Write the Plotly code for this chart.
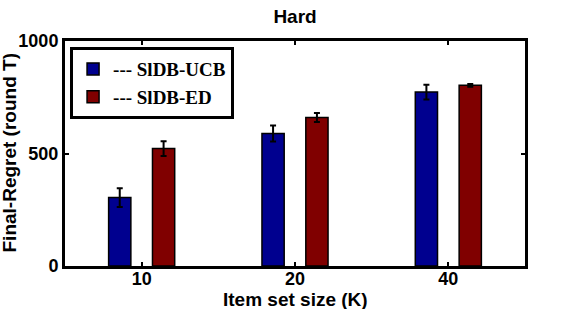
import plotly.graph_objects as go

categories = ["10", "20", "40"]
ucb_values = [304, 589, 773]
ucb_err = [42, 36, 33]
ed_values = [522, 660, 803]
ed_err = [33, 20, 6]

x_pos = [0, 1, 2]
bar_w = 0.145

fig = go.Figure()
fig.add_trace(go.Bar(
    x=x_pos, y=ucb_values, name="--- SlDB-UCB",
    width=bar_w, offset=-0.143 - bar_w / 2,
    marker=dict(color="#00008F", line=dict(color="black", width=1.5)),
    error_y=dict(type="data", array=ucb_err, color="black", thickness=2, width=3),
))
fig.add_trace(go.Bar(
    x=x_pos, y=ed_values, name="--- SlDB-ED",
    width=bar_w, offset=0.143 - bar_w / 2,
    marker=dict(color="#800000", line=dict(color="black", width=1.5)),
    error_y=dict(type="data", array=ed_err, color="black", thickness=2, width=3),
))

sans = "Liberation Sans, Arial, sans-serif"
fig.update_layout(
    width=562, height=309,
    margin=dict(l=65, r=37, t=41, b=43),
    paper_bgcolor="white", plot_bgcolor="white",
    showlegend=True,
    title=dict(text="Hard", x=0.525, xanchor="center", y=0.948, yanchor="middle",
               font=dict(family=sans, size=19, color="black", weight="bold")),
    legend=dict(
        x=0.011, y=0.973, xanchor="left", yanchor="top",
        bgcolor="white", bordercolor="black", borderwidth=3,
        font=dict(family="Liberation Serif, serif", size=19, color="black", weight="bold"),
        tracegroupgap=0, itemwidth=30, entrywidth=165, entrywidthmode="pixels",
    ),
    font=dict(family=sans, color="black"),
    annotations=[
        dict(text="Final-Regret (round T)", textangle=-90, xref="paper", yref="paper",
             x=0, y=0.5, xanchor="center", yanchor="middle", xshift=-56, showarrow=False,
             font=dict(family=sans, size=19, color="black", weight="bold")),
        dict(text="Item set size (K)", xref="paper", yref="paper",
             x=0.5, y=0, xanchor="center", yanchor="middle", yshift=-33, showarrow=False,
             font=dict(family=sans, size=19, color="black", weight="bold")),
    ],
)
fig.update_xaxes(
    range=[-0.5, 2.5], tickmode="array", tickvals=x_pos, ticktext=categories,
    ticks="inside", ticklen=4, tickwidth=2, tickcolor="black",
    showline=True, linewidth=3, linecolor="black", mirror="ticks",
    showgrid=False, zeroline=False, automargin=False,
    tickfont=dict(family=sans, size=18, color="black", weight="bold"),
    ticklabelstandoff=-6,
)
fig.update_yaxes(
    range=[0, 1000], tickmode="array", tickvals=[0, 500, 1000],
    ticks="inside", ticklen=4, tickwidth=2, tickcolor="black",
    showline=True, linewidth=3, linecolor="black", mirror="ticks",
    showgrid=False, zeroline=False, automargin=False,
    tickfont=dict(family=sans, size=18, color="black", weight="bold"),
    ticklabelstandoff=0,
)

fig.write_html("out.html", config={"displayModeBar": False},
               post_script="document.body.style.margin='0';")
